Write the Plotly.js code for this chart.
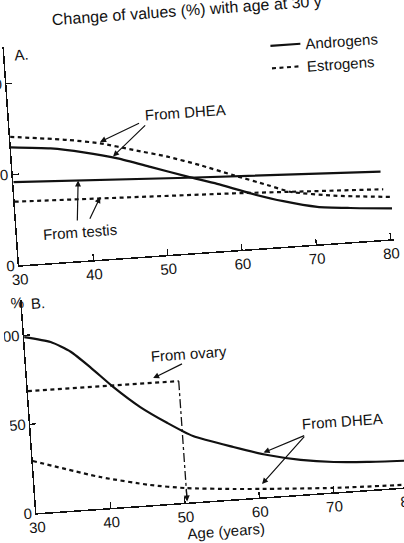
<!DOCTYPE html>
<html>
<head>
<meta charset="utf-8">
<script src="https://cdn.plot.ly/plotly-3.0.1.min.js"></script>
<style>
  html, body { margin: 0; padding: 0; background: #ffffff; overflow: hidden; }
  #plot { width: 404px; height: 543px; transform: rotate(-4deg); transform-origin: 202px 271.5px; }
</style>
</head>
<body>
<div id="plot"></div>
<script>
// ---------- Panel A (men) ----------
const ageTicks = [30, 40, 50, 60, 70, 80];
const pctTicks = [0, 50, 100];

const dheaAndroAgesA = [30, 35.3, 39.7, 44.2, 48.5, 53.4, 57.3, 61.7, 66.0, 70.5, 74.9, 80.5];
const dheaAndroValsA = [64.9, 62.8, 59.4, 54.8, 48.9, 42.1, 37.0, 30.5, 25.0, 20.6, 18.7, 16.9];

const dheaEstroAgesA = [30, 37.7, 42.0, 46.4, 50.9, 55.2, 59.5, 64.0, 67.0, 72.8, 80.5];
const dheaEstroValsA = [70.7, 66.8, 63.7, 58.8, 53.8, 47.9, 41.2, 34.5, 29.9, 26.1, 23.2];

const testisAndroAgesA = [30, 53.4, 79.3];
const testisAndroValsA = [45.8, 41.5, 37.5];

const testisEstroAgesA = [30, 41.5, 59.4, 79.5];
const testisEstroValsA = [35.0, 33.6, 31.2, 27.7];

// ---------- Panel B (women) ----------
const dheaAndroAgesB = [30, 33.5, 36.1, 38.6, 41.5, 44.9, 48.4, 51.7, 57.0, 61.5, 65.9, 70.3, 74.8, 80.0];
const dheaAndroValsB = [99.0, 95.2, 89.0, 79.5, 67.5, 55.3, 45.3, 37.0, 29.3, 23.5, 19.5, 17.0, 15.7, 14.9];

const dheaEstroAgesB = [30, 38.9, 45.5, 50.2, 56.6, 60.2, 70.0, 80.0];
const dheaEstroValsB = [29.3, 17.7, 11.3, 8.2, 5.8, 4.8, 2.5, 1.4];

const ovaryEstroAgesB = [30, 50.3];
const ovaryEstroValsB = [68.6, 68.3];

const labels = {
  title: 'Change of values (%) with age at 30 y',
  andro: 'Androgens',
  estro: 'Estrogens',
  dhea: 'From DHEA',
  testis: 'From testis',
  ovary: 'From ovary',
  xTitle: 'Age (years)'
};

const FONT = 'Liberation Sans, Arial, Helvetica, sans-serif';
const INK = '#111111';
const SOLID = { color: INK, width: 2.2 };
const DOTTED = { color: INK, width: 2.2, dash: '4px,3.5px' };
const SMOOTH = { shape: 'spline', smoothing: 0.6 };

const lastOvaryAge = ovaryEstroAgesB[ovaryEstroAgesB.length - 1];
const lastOvaryVal = ovaryEstroValsB[ovaryEstroValsB.length - 1];

const traces = [
  { x: dheaAndroAgesA, y: dheaAndroValsA, xaxis: 'x', yaxis: 'y', mode: 'lines', line: Object.assign({}, SMOOTH, SOLID), name: labels.andro, showlegend: true, hoverinfo: 'skip' },
  { x: dheaEstroAgesA, y: dheaEstroValsA, xaxis: 'x', yaxis: 'y', mode: 'lines', line: Object.assign({}, SMOOTH, DOTTED), name: labels.estro, showlegend: true, hoverinfo: 'skip' },
  { x: testisAndroAgesA, y: testisAndroValsA, xaxis: 'x', yaxis: 'y', mode: 'lines', line: SOLID, showlegend: false, hoverinfo: 'skip' },
  { x: testisEstroAgesA, y: testisEstroValsA, xaxis: 'x', yaxis: 'y', mode: 'lines', line: DOTTED, showlegend: false, hoverinfo: 'skip' },

  { x: dheaAndroAgesB, y: dheaAndroValsB, xaxis: 'x2', yaxis: 'y2', mode: 'lines', line: Object.assign({}, SMOOTH, SOLID), showlegend: false, hoverinfo: 'skip' },
  { x: dheaEstroAgesB, y: dheaEstroValsB, xaxis: 'x2', yaxis: 'y2', mode: 'lines', line: Object.assign({}, SMOOTH, DOTTED), showlegend: false, hoverinfo: 'skip' },
  { x: ovaryEstroAgesB, y: ovaryEstroValsB, xaxis: 'x2', yaxis: 'y2', mode: 'lines', line: DOTTED, showlegend: false, hoverinfo: 'skip' },
  { x: [lastOvaryAge, lastOvaryAge], y: [lastOvaryVal, 2], xaxis: 'x2', yaxis: 'y2', mode: 'lines', line: { color: INK, width: 1.3, dash: 'dashdot' }, showlegend: false, hoverinfo: 'skip' }
];

const xBase = {
  range: [30, 80.5], tickvals: ageTicks, ticktext: ageTicks.map(String),
  ticks: 'inside', ticklen: 6, tickwidth: 1.2, tickcolor: INK,
  showline: true, linecolor: INK, linewidth: 1.5,
  showgrid: false, zeroline: false, fixedrange: true,
  tickfont: { family: FONT, size: 15, color: INK }
};
const yBase = {
  range: [0, 120], tickvals: pctTicks, ticktext: pctTicks.map(String),
  ticks: 'inside', ticklen: 6, tickwidth: 1.2, tickcolor: INK,
  showline: true, linecolor: INK, linewidth: 1.5,
  showgrid: false, zeroline: false, fixedrange: true,
  tickfont: { family: FONT, size: 15, color: INK }
};

function txt(text, xref, yref, x, y, extra) {
  return Object.assign({ text: text, xref: xref, yref: yref, x: x, y: y, showarrow: false,
    font: { family: FONT, size: 15, color: INK } }, extra || {});
}
function arrow(xref, yref, x, y, ax, ay) {
  return { text: '', xref: xref, yref: yref, x: x, y: y, axref: xref, ayref: yref, ax: ax, ay: ay,
    showarrow: true, arrowhead: 2, arrowsize: 1, arrowwidth: 1.2, arrowcolor: INK, standoff: 0, startstandoff: 0 };
}

const annotations = [
  txt('A.', 'x', 'y', 32.3, 115.5),
  txt(labels.dhea, 'x', 'y', 53.7, 77.6),
  txt(labels.testis, 'x', 'y', 38.4, 15.9),
  arrow('x', 'y', 42.0, 64.5, 47.6, 73.5),
  arrow('x', 'y', 43.6, 56.0, 48.4, 72.5),
  arrow('x', 'y', 38.7, 44.2, 38.2, 21.5),
  arrow('x', 'y', 41.5, 34.3, 39.8, 22.0),

  txt('B.', 'x2', 'y2', 32.2, 117.4),
  txt('%', 'paper', 'paper', -0.035, 0.452),
  txt(labels.ovary, 'x2', 'y2', 51.9, 83.5),
  txt(labels.dhea, 'x2', 'y2', 71.8, 39.8),
  arrow('x2', 'y2', 46.9, 71.0, 51.1, 78.2),
  arrow('x2', 'y2', 61.0, 25.0, 66.8, 33.2),
  arrow('x2', 'y2', 60.5, 7.5, 66.8, 33.2),
  arrow('x2', 'y2', lastOvaryAge, 0.6, lastOvaryAge, 8)
];

const layout = {
  width: 404, height: 543,
  margin: { l: 20, r: 8, t: 34, b: 42, autoexpand: false },
  paper_bgcolor: '#ffffff', plot_bgcolor: '#ffffff',
  font: { family: FONT, size: 15, color: INK },
  title: { text: labels.title, font: { family: FONT, size: 16, color: INK },
           xref: 'container', yref: 'container', x: 0.173, xanchor: 'left', y: 0.982, yanchor: 'middle' },
  showlegend: true,
  legend: { x: 1.008, y: 0.998, xanchor: 'right', yanchor: 'top', bgcolor: 'rgba(0,0,0,0)',
            font: { family: FONT, size: 15, color: INK }, itemwidth: 30, tracegroupgap: 0 },
  xaxis: Object.assign({}, xBase, { anchor: 'y', domain: [0, 1] }),
  yaxis: Object.assign({}, yBase, { anchor: 'x', domain: [0.532, 1] }),
  xaxis2: Object.assign({}, xBase, { anchor: 'y2', domain: [0, 1],
           title: { text: labels.xTitle, font: { family: FONT, size: 15, color: INK }, standoff: 4 } }),
  yaxis2: Object.assign({}, yBase, { anchor: 'x2', domain: [0, 0.458] }),
  annotations: annotations
};

Plotly.newPlot('plot', traces, layout, { staticPlot: true, displayModeBar: false });
</script>
</body>
</html>
